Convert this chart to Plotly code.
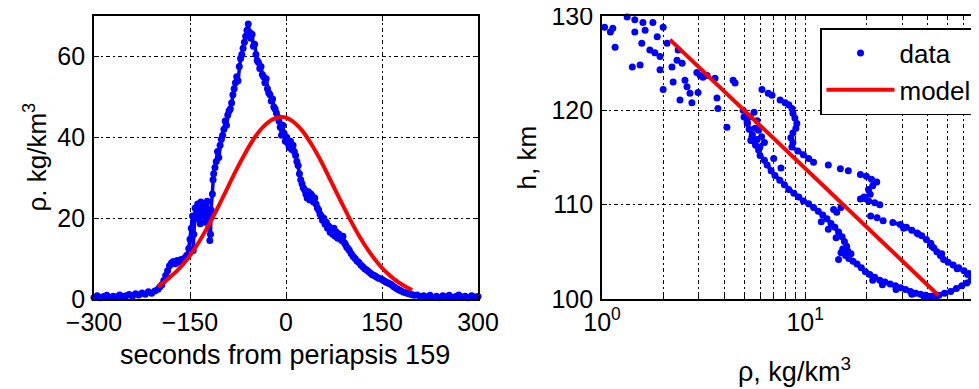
import plotly.graph_objects as go

# ---------------- Left panel data ----------------
t_data = [-300, -295, -290, -285, -280, -275, -270, -265, -260, -255, -250, -245, -240, -235, -230,
          -225, -220, -215, -210, -205, -200, -197, -194, -191, -188, -185, -182, -179, -176, -173,
          -170, -167, -164, -161, -158, -155, -152, -150, -148, -146, -145, -144, -142, -140, -138,
          -136, -134, -133, -131, -129, -127, -125, -123, -121, -120, -119, -118, -117, -115, -114,
          -113, -111, -109, -107, -105, -103, -101, -99, -97, -95, -93, -91, -89, -87, -85,
          -83, -81, -79, -77, -75, -73, -71, -69, -67, -65, -63, -61, -59, -57, -55,
          -53, -51, -49, -47, -45, -43, -41, -39, -37, -35, -33, -31, -29, -27, -25,
          -23, -21, -19, -17, -15, -13, -11, -9, -7, -5, -3, -1, 1, 3, 5,
          7, 9, 11, 13, 15, 17, 19, 21, 23, 25, 27, 29, 31, 33, 35,
          37, 39, 41, 43, 45, 47, 49, 51, 53, 55, 57, 59, 61, 63, 65,
          67, 69, 71, 73, 75, 77, 79, 81, 83, 85, 87, 89, 91, 93, 95,
          97, 99, 102, 105, 108, 111, 114, 117, 120, 123, 126, 129, 132, 135, 138,
          141, 144, 147, 150, 153, 156, 159, 162, 165, 168, 171, 174, 177, 180, 184,
          188, 192, 196, 200, 205, 210, 215, 220, 225, 230, 235, 240, 245, 250, 255,
          260, 265, 270, 275, 280, 285, 290, 295, 300]
rho_data = [0.4, 0.8, 0.3, 0.6, 0.9, 0.4, 0.7, 0.5, 1.0, 0.6, 0.8, 1.1, 0.7, 1.3, 1.0,
            1.5, 1.2, 1.8, 1.4, 2.0, 2.4, 3.0, 3.5, 4.6, 5.8, 7.0, 8.2, 8.9, 9.3, 8.7,
            9.5, 9.1, 9.8, 9.4, 10.2, 10.8, 12.5, 14.8, 17.5, 20.5, 12.0, 16.0, 22.5, 19.8, 23.5,
            21.0, 18.6, 24.0, 20.5, 22.8, 19.0, 21.5, 24.2, 17.5, 20.0, 14.5, 16.0, 22.0, 26.0, 29.5,
            31.0, 32.5, 34.0, 36.5, 35.0, 38.0, 39.5, 40.5, 42.0, 44.0, 43.0, 45.5, 46.5, 47.0, 48.5,
            50.5, 52.0, 53.5, 55.0, 54.0, 57.5, 59.5, 60.5, 62.0, 63.5, 65.0, 66.5, 68.0, 66.0, 64.5,
            65.5, 62.5, 63.0, 60.5, 59.0, 58.5, 57.0, 57.5, 55.5, 55.0, 53.5, 54.5, 52.0, 51.0, 50.5,
            49.0, 49.5, 47.5, 47.0, 46.0, 45.0, 44.0, 42.5, 40.5, 43.0, 41.0, 39.0, 40.0, 38.5, 37.5,
            39.0, 37.0, 38.0, 36.5, 35.5, 34.0, 33.0, 31.0, 29.5, 28.5, 27.5, 27.0, 26.0, 25.0, 26.5,
            24.5, 26.0, 25.5, 24.0, 25.0, 23.5, 22.5, 22.0, 21.0, 20.5, 19.5, 20.0, 18.5, 19.0, 17.5,
            18.0, 16.5, 17.0, 16.0, 17.5, 15.5, 16.5, 15.0, 16.0, 15.5, 14.5, 15.5, 14.0, 13.5, 12.8,
            12.5, 12.0, 11.2, 10.5, 10.0, 9.4, 9.0, 8.4, 8.0, 7.5, 7.2, 6.8, 6.4, 6.0, 5.8,
            5.5, 5.2, 5.0, 4.8, 4.5, 4.2, 4.0, 3.8, 3.5, 3.1, 2.8, 2.5, 2.2, 2.0, 1.7,
            1.5, 1.3, 1.1, 0.9, 1.0, 0.6, 0.8, 0.5, 0.9, 0.4, 0.7, 0.3, 0.8, 0.5, 0.9,
            0.4, 0.6, 1.0, 0.5, 0.7, 0.3, 0.8, 0.5, 0.6]

t_model = [-200, -185, -170, -155, -140, -125, -110, -95, -80, -65, -50, -35, -20, -5,
           10, 25, 40, 55, 70, 85, 100, 115, 130, 145, 160, 175, 190, 197]
rho_model = [3.0, 4.9, 7.0, 9.7, 13.1, 17.1, 21.5, 26.3, 31.2, 35.7, 39.7, 42.7, 44.5, 45.0,
             44.0, 41.7, 38.2, 34.0, 29.2, 24.4, 19.7, 15.4, 11.7, 8.6, 6.1, 4.2, 2.8, 2.2]

# ---------------- Right panel data ----------------
# scattered points (high altitude, stray points)
rho_scatter = [1.03, 1.10, 1.13, 1.16, 1.33, 1.41, 1.45, 1.45, 1.54, 1.57, 1.59, 1.63, 1.72, 1.78,
               1.82, 1.87, 1.93, 1.93, 2.00, 2.00, 2.09, 2.21, 2.24, 2.34, 2.37, 2.42, 2.48, 2.56,
               2.62, 2.71, 2.77, 2.93, 2.97, 3.04, 3.14, 3.29, 3.60, 3.68, 3.72, 4.12, 4.42, 4.52,
               4.95, 5.18, 5.36, 5.47, 5.67, 5.80, 5.99, 6.13, 6.58, 6.87,
               5.6, 5.8, 5.9, 6.1, 6.3, 7.0, 7.6, 12.0, 13.0, 14.2, 15.3, 16.8, 15.0, 14.6,
               21.5, 24.0, 28.0, 33.5, 38.5, 13.8, 14.3, 15.0,
               13.0, 14.9, 16.3, 18.7, 21.0, 22.6, 24.2,
               30.5, 36.0, 42.0, 47.0, 56.0, 63.0]
h_scatter = [128.8, 128.3, 128.7, 126.7, 129.9, 124.6, 129.6, 128.3, 124.8, 127.1, 129.3, 128.5, 126.4, 129.3,
             126.1, 127.8, 125.7, 124.3, 128.8, 122.2, 127.1, 124.6, 123.0, 125.3, 126.4, 121.1, 125.0, 123.2,
             122.5, 121.8, 120.8, 124.0, 121.9, 123.7, 123.5, 123.7, 123.4, 121.3, 120.2, 118.2, 123.2, 122.9,
             120.0, 118.7, 119.3, 117.2, 118.1, 116.9, 116.1, 122.2, 121.8, 121.6,
             119.8, 118.9, 117.9, 117.2, 116.6, 114.9, 113.9, 108.2, 107.4, 106.5, 105.3, 104.8, 104.9,
             104.2,
             102.0, 101.5, 101.0, 100.5, 100.2, 109.5, 109.2, 109.7,
             114.2, 113.8, 113.6, 113.2, 108.8, 108.6, 108.3,
             107.5, 106.9, 105.6, 104.8, 103.2, 102.6]

# outbound branch (lower density), ordered by altitude
rho_out = [5.0, 5.2, 5.3, 5.5, 5.4, 5.7, 5.9, 6.0, 6.3, 6.5, 6.8, 7.1, 7.5, 7.9, 8.3, 8.8, 9.3, 9.8,
           10.4, 11.0, 11.6, 12.2, 12.8, 13.4, 14.0, 14.6, 15.2, 15.6, 16.0, 16.2, 15.8, 16.4, 17.2,
           18.0, 18.9, 19.8, 20.8, 22.0, 23.3, 24.7, 26.2, 27.8, 29.5, 31.2, 33.0, 35.0, 37.0, 39.2,
           41.5, 44.0]
h_out = [119.3, 118.6, 118.0, 117.4, 116.8, 116.3, 115.8, 115.2, 114.7, 114.2, 113.6, 113.1, 112.6, 112.1,
         111.6, 111.2, 110.8, 110.4, 110.1, 109.7, 109.3, 108.9, 108.5, 108.0, 107.6, 107.1, 106.6, 106.1,
         105.6, 105.1, 104.6, 104.3, 104.0, 103.7, 103.3, 102.9, 102.6, 102.3, 102.0, 101.8, 101.6, 101.4,
         101.2, 101.0, 100.8, 100.6, 100.5, 100.4, 100.3, 100.3]

# inbound branch (higher density): upper strand, sub-loop, lower loop
rho_in1 = [7.53, 7.97, 8.3, 8.6, 8.7, 8.9, 9.1, 9.0, 8.7, 8.5, 8.7, 8.6, 9.2, 9.8, 10.4, 11.0]
h_in1 = [121.1, 120.8, 120.6, 120.2, 119.7, 119.2, 118.6, 118.1, 117.6, 117.1, 116.6, 116.1, 115.7,
         115.3, 114.9, 114.5]
rho_in2 = [20.0, 21.2, 22.5, 21.5, 20.5, 20.9, 19.5, 18.7, 20.5, 22.0, 23.3]
h_in2 = [113.0, 112.7, 112.4, 112.0, 111.6, 111.1, 110.8, 110.6, 110.4, 110.2, 110.0]
rho_in3 = [27.0, 29.4, 31.5, 33.5, 35.5, 37.5, 39.5, 41.5, 43.0, 44.5, 46.3, 48.0, 50.5, 53.5,
           57.0, 60.5, 64.0, 67.0, 65.5, 62.5, 59.0, 55.5, 52.0, 48.5, 45.5, 42.5]
h_in3 = [108.1, 107.9, 107.6, 107.3, 107.0, 106.7, 106.3, 105.9, 105.4, 105.0, 104.6, 104.2, 103.9,
         103.6, 103.3, 103.0, 102.7, 102.4, 102.0, 101.7, 101.4, 101.1, 100.8, 100.6, 100.4, 100.3]

rho_fit = [2.16, 45.2]
h_fit = [127.5, 100.4]

x_ticks_left = [-300, -150, 0, 150, 300]
y_ticks_left = [0, 20, 40, 60]
x_ticks_right = [1, 2, 3, 4, 5, 6, 7, 8, 9, 10, 20, 30, 40, 50, 60, 70]
x_ticktext_right = ["10<sup>0</sup>", "", "", "", "", "", "", "", "", "10<sup>1</sup>",
                    "", "", "", "", "", ""]
y_ticks_right = [100, 110, 120, 130]

BLUE = "#0000ff"
RED = "#ff0000"
FONT = "Liberation Sans, Arial, sans-serif"
W, H = 979, 389
OFF = 8                      # the page adds an 8 px body margin; compensate
TOP, BOT = 16 - OFF, 299 - OFF
PH = BOT - TOP


def px_x(p):
    return (p - OFF) / W


def px_y(p):
    return (BOT - (p - OFF)) / PH


fig = go.Figure()
fig.add_trace(go.Scatter(x=t_data, y=rho_data, mode="lines+markers",
                         marker=dict(color=BLUE, size=7), line=dict(color=BLUE, width=3.5),
                         showlegend=False, cliponaxis=False, xaxis="x", yaxis="y"))
fig.add_trace(go.Scatter(x=t_model, y=rho_model, mode="lines", line=dict(color=RED, width=4, shape="spline"),
                         showlegend=False, xaxis="x", yaxis="y"))
fig.add_trace(go.Scatter(x=rho_scatter, y=h_scatter, mode="markers", marker=dict(color=BLUE, size=7),
                         name="data", cliponaxis=False, xaxis="x2", yaxis="y2"))
for rx, hy in [(rho_out, h_out), (rho_in1, h_in1), (rho_in2, h_in2), (rho_in3, h_in3)]:
    fig.add_trace(go.Scatter(x=rx, y=hy, mode="lines+markers", marker=dict(color=BLUE, size=7),
                             line=dict(color=BLUE, width=4), showlegend=False, cliponaxis=False,
                             xaxis="x2", yaxis="y2"))
fig.add_trace(go.Scatter(x=rho_fit, y=h_fit, mode="lines", line=dict(color=RED, width=4),
                         name="model", xaxis="x2", yaxis="y2"))

grid = dict(showgrid=True, gridcolor="black", gridwidth=1.4, griddash="4px,3px,2px,3px")
axis_common = dict(showline=True, linecolor="black", linewidth=1.8, ticks="inside", ticklen=5,
                   tickcolor="black", zeroline=False, automargin=False, ticklabeloverflow="allow",
                   tickfont=dict(family=FONT, size=25, color="black"))

fig.update_layout(
    width=W, height=H,
    margin=dict(l=0, r=0, t=TOP, b=H - BOT, autoexpand=False),
    paper_bgcolor="white", plot_bgcolor="white",
    font=dict(family=FONT, size=25, color="black"),
    xaxis=dict(domain=[px_x(94), px_x(478)], range=[-300, 300], tickvals=x_ticks_left,
               mirror="ticks", anchor="y", ticklabelstandoff=0, **grid, **axis_common),
    yaxis=dict(domain=[0, 1], range=[0, 70], tickvals=y_ticks_left,
               mirror="ticks", anchor="x", ticklabelstandoff=2, **grid, **axis_common),
    xaxis2=dict(domain=[px_x(602), px_x(986)], type="log", range=[0, 1.89], tickvals=x_ticks_right,
                ticktext=x_ticktext_right, mirror=True, anchor="y2", ticklabelstandoff=0,
                **grid, **axis_common),
    yaxis2=dict(domain=[0, 1], range=[100, 130], tickvals=y_ticks_right,
                mirror=False, anchor="x2", ticklabelstandoff=2, **grid, **axis_common),
    legend=dict(x=px_x(977), y=px_y(28), xanchor="right", yanchor="top",
                xref="paper", yref="paper",
                bgcolor="white", bordercolor="black", borderwidth=1.5,
                font=dict(family=FONT, size=26, color="black"),
                tracegroupgap=0, itemwidth=68),
    annotations=[
        dict(text="seconds from periapsis 159", x=px_x(285), y=px_y(355), xref="paper", yref="paper",
             showarrow=False, xanchor="center", yanchor="middle", font=dict(family=FONT, size=27)),
        dict(text="ρ. kg/km<sup>3</sup>", x=px_x(36), y=0.5, xref="paper", yref="paper", textangle=-90,
             showarrow=False, xanchor="center", yanchor="middle", font=dict(family=FONT, size=26)),
        dict(text="ρ, kg/km<sup>3</sup>", x=px_x(794), y=px_y(370), xref="paper", yref="paper",
             showarrow=False, xanchor="center", yanchor="middle", font=dict(family=FONT, size=27)),
        dict(text="h, km", x=px_x(526), y=0.5, xref="paper", yref="paper", textangle=-90,
             showarrow=False, xanchor="center", yanchor="middle", font=dict(family=FONT, size=26)),
    ],
)

fig.write_html("out.html")
